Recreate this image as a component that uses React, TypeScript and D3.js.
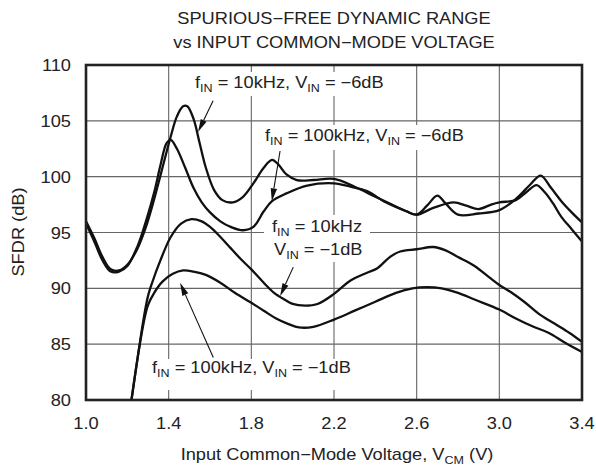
import React from "react";
import * as d3 from "d3";

// ---- data ----
const X_TICKS = [1.0, 1.4, 1.8, 2.2, 2.6, 3.0, 3.4];
const Y_TICKS = [80, 85, 90, 95, 100, 105, 110];
const TITLE = ["SPURIOUS\u2212FREE DYNAMIC RANGE", "vs INPUT COMMON\u2212MODE VOLTAGE"];
const Y_TITLE = "SFDR (dB)";

// f = 10kHz, Vin = -6dB
const A_V = [1.0, 1.04, 1.08, 1.12, 1.16, 1.2, 1.25, 1.29, 1.33, 1.37, 1.41, 1.44, 1.47, 1.49, 1.52, 1.55, 1.58, 1.62, 1.66, 1.71, 1.76, 1.81, 1.86, 1.9, 1.93, 1.97, 2.02, 2.1, 2.2, 2.3, 2.4, 2.48, 2.55, 2.6, 2.65, 2.7, 2.74, 2.8, 2.9, 3.0, 3.08, 3.15, 3.2, 3.25, 3.3, 3.35, 3.4];
const A_DB = [96.0, 94.5, 92.8, 91.7, 91.6, 92.1, 93.6, 95.5, 98.0, 100.8, 103.6, 105.4, 106.3, 106.3, 105.2, 103.0, 100.8, 98.8, 97.9, 97.7, 98.2, 99.4, 100.8, 101.5, 101.1, 100.2, 99.7, 99.7, 99.8, 99.1, 98.2, 97.5, 96.9, 96.6, 97.4, 98.3, 97.6, 96.6, 96.7, 97.0, 98.0, 99.3, 100.1, 99.0, 97.8, 96.8, 95.9];
// f = 100kHz, Vin = -6dB
const B_V = [1.0, 1.04, 1.08, 1.12, 1.16, 1.2, 1.25, 1.29, 1.33, 1.36, 1.39, 1.41, 1.44, 1.48, 1.52, 1.56, 1.6, 1.65, 1.7, 1.76, 1.81, 1.86, 1.9, 1.97, 2.07, 2.2, 2.28, 2.36, 2.45, 2.55, 2.6, 2.68, 2.78, 2.84, 2.9, 2.96, 3.0, 3.08, 3.13, 3.18, 3.22, 3.26, 3.3, 3.35, 3.4];
const B_DB = [95.8, 94.2, 92.5, 91.5, 91.5, 92.0, 93.8, 96.0, 98.6, 101.0, 103.0, 103.3, 102.5, 100.8, 99.0, 97.7, 96.8, 96.0, 95.5, 95.2, 95.5, 96.9, 97.8, 98.5, 99.2, 99.4, 99.1, 98.7, 97.7, 96.9, 96.6, 97.2, 97.7, 97.4, 97.1, 97.5, 97.7, 97.9, 98.6, 99.25, 98.6, 97.6, 96.4, 95.3, 94.2];
// f = 10kHz, Vin = -1dB
const C_V = [1.22, 1.25, 1.28, 1.3, 1.32, 1.36, 1.41, 1.46, 1.51, 1.56, 1.6, 1.64, 1.7, 1.75, 1.8, 1.86, 1.91, 1.96, 2.0, 2.06, 2.12, 2.2, 2.28, 2.36, 2.41, 2.47, 2.52, 2.6, 2.68, 2.74, 2.8, 2.88, 2.95, 3.0, 3.06, 3.12, 3.2, 3.28, 3.34, 3.4];
const C_DB = [80.0, 83.8, 87.4, 89.3, 90.5, 92.5, 94.6, 95.8, 96.2, 96.0, 95.5, 94.8, 93.6, 92.6, 91.7, 90.5, 89.6, 89.0, 88.6, 88.45, 88.6, 89.5, 90.7, 91.4, 91.8, 92.8, 93.3, 93.5, 93.7, 93.4, 92.8, 92.0, 91.0, 90.3, 89.6, 88.8, 87.6, 86.7, 86.0, 85.2];
// f = 100kHz, Vin = -1dB
const D_V = [1.22, 1.25, 1.28, 1.3, 1.33, 1.37, 1.42, 1.47, 1.52, 1.58, 1.65, 1.72, 1.8, 1.86, 1.92, 1.98, 2.03, 2.1, 2.2, 2.3, 2.4, 2.5, 2.58, 2.65, 2.72, 2.8, 2.88, 3.0, 3.08, 3.16, 3.24, 3.32, 3.4];
const D_DB = [80.0, 83.8, 87.0, 88.5, 89.6, 90.6, 91.3, 91.6, 91.5, 91.2, 90.5, 89.6, 88.7, 88.0, 87.3, 86.8, 86.5, 86.55, 87.2, 88.0, 88.8, 89.6, 90.0, 90.1, 90.0, 89.6, 89.0, 88.1, 87.3, 86.6, 86.0, 85.1, 84.3];

const SERIES = [
  { v: A_V, db: A_DB },
  { v: B_V, db: B_DB },
  { v: C_V, db: C_DB },
  { v: D_V, db: D_DB },
];

// ---- layout ----
const W = 596, H = 467;
const L = 86, R = 582, T = 65, B = 400;
const FS = 16;
const SX = 1.14;
const FONT = "'Liberation Sans', Arial, Helvetica, sans-serif";

const x = d3.scaleLinear().domain([1.0, 3.4]).range([L, R]);
const y = d3.scaleLinear().domain([80, 110]).range([B, T]);

const line = d3
  .line<[number, number]>()
  .x((d) => x(d[0]))
  .y((d) => y(d[1]))
  .curve(d3.curveCatmullRom.alpha(0.5));

// segments: strings starting with "_" are subscripts
function Txt({ x0, y0, anchor = "start", segs }: any) {
  const parts: any[] = [];
  let prevSub = false;
  segs.forEach((s: string, i: number) => {
    const sub = s.startsWith("_");
    const txt = sub ? s.slice(1) : s;
    let dy = 0;
    if (sub && !prevSub) dy = 4;
    if (!sub && prevSub) dy = -4;
    parts.push(
      <tspan key={i} dy={dy} fontSize={sub ? 11 : FS}>
        {txt}
      </tspan>
    );
    prevSub = sub;
  });
  return (
    <text
      transform={`translate(${x0},${y0}) scale(${SX},1)`}
      textAnchor={anchor}
      fontSize={FS}
      fontFamily={FONT}
      fill="#222"
    >
      {parts}
    </text>
  );
}

function Arrow({ x1, y1, x2, y2 }: any) {
  const dx = x2 - x1, dy = y2 - y1;
  const len = Math.hypot(dx, dy);
  const ux = dx / len, uy = dy / len;
  const hl = 13, hw = 3.2;
  const bx = x2 - ux * hl, by = y2 - uy * hl;
  const pts = `${x2},${y2} ${bx - uy * hw},${by + ux * hw} ${bx + uy * hw},${by - ux * hw}`;
  return (
    <g>
      <line x1={x1} y1={y1} x2={bx} y2={by} stroke="#111" strokeWidth={1.1} />
      <polygon points={pts} fill="#111" />
    </g>
  );
}

const M = "\u2212";

export default function App() {
  const fmt = d3.format(".1f");
  return (
    <svg width={W} height={H} style={{ position: "absolute", left: 0, top: 0, background: "#fff" }}>
      <defs>
        <clipPath id="plot">
          <rect x={L} y={T} width={R - L} height={B - T} />
        </clipPath>
      </defs>
      <rect x={0} y={0} width={W} height={H} fill="#fff" />
      {/* grid */}
      {X_TICKS.slice(1, -1).map((t) => (
        <line key={"gx" + t} x1={x(t)} x2={x(t)} y1={T} y2={B} stroke="#666" strokeWidth={1.1} />
      ))}
      {Y_TICKS.slice(1, -1).map((t) => (
        <line key={"gy" + t} x1={L} x2={R} y1={y(t)} y2={y(t)} stroke="#666" strokeWidth={1.1} />
      ))}
      {/* label backgrounds */}
      <rect x={190} y={72} width={205} height={24} fill="#fff" />
      <rect x={260} y={125} width={215} height={25} fill="#fff" />
      <rect x={264} y={215} width={106} height={47} fill="#fff" />
      <rect x={147} y={359} width={213} height={31} fill="#fff" />
      {/* curves */}
      <g clipPath="url(#plot)">
        {SERIES.map((s, i) => (
          <path
            key={i}
            d={line(s.v.map((v, j) => [v, s.db[j]] as [number, number])) || ""}
            fill="none"
            stroke="#111"
            strokeWidth={2.3}
            strokeLinejoin="round"
          />
        ))}
      </g>
      {/* frame */}
      <rect x={L} y={T} width={R - L} height={B - T} fill="none" stroke="#222" strokeWidth={2.6} />
      {/* ticks */}
      {Y_TICKS.map((t) => (
        <Txt key={"yt" + t} x0={71} y0={y(t) + 6} anchor="end" segs={[String(t)]} />
      ))}
      {X_TICKS.map((t) => (
        <Txt key={"xt" + t} x0={x(t)} y0={429} anchor="middle" segs={[fmt(t)]} />
      ))}
      {/* titles */}
      <Txt x0={334} y0={24} anchor="middle" segs={[TITLE[0]]} />
      <Txt x0={334} y0={48} anchor="middle" segs={[TITLE[1]]} />
      <Txt
        x0={337}
        y0={460}
        anchor="middle"
        segs={[`Input Common${M}Mode Voltage, V`, "_CM", " (V)"]}
      />
      <g transform={`translate(24,232) rotate(-90)`}>
        <text textAnchor="middle" fontSize={FS} fontFamily={FONT} fill="#222" transform={`scale(${SX},1)`}>
          {Y_TITLE}
        </text>
      </g>
      {/* annotations */}
      <Txt x0={195} y0={88} segs={["f", "_IN", " = 10kHz, V", "_IN", ` = ${M}6dB`]} />
      <Txt x0={265} y0={141} segs={["f", "_IN", " = 100kHz, V", "_IN", ` = ${M}6dB`]} />
      <Txt x0={272} y0={232} segs={["f", "_IN", " = 10kHz"]} />
      <Txt x0={274} y0={255} segs={["V", "_IN", ` = ${M}1dB`]} />
      <Txt x0={152} y0={373} segs={["f", "_IN", " = 100kHz, V", "_IN", ` = ${M}1dB`]} />
      <Arrow x1={x(1.615)} y1={y(106.8)} x2={x(1.542)} y2={y(104.0)} />
      <Arrow x1={x(1.939)} y1={y(102.3)} x2={x(1.899)} y2={y(97.8)} />
      <Arrow x1={x(2.003)} y1={y(91.9)} x2={x(1.939)} y2={y(89.3)} />
      <Arrow x1={x(1.616)} y1={y(83.8)} x2={x(1.455)} y2={y(90.5)} />
    </svg>
  );
}
